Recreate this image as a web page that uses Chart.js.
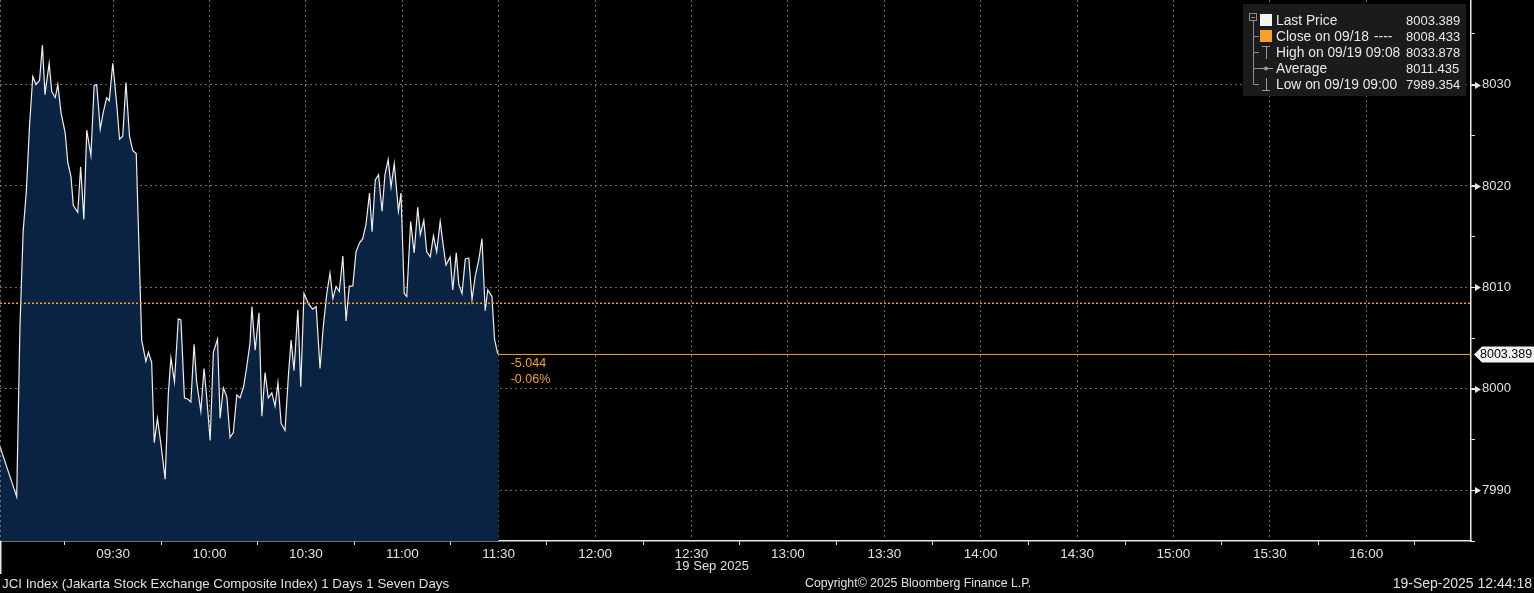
<!DOCTYPE html>
<html>
<head>
<meta charset="utf-8">
<script src="https://cdn.jsdelivr.net/npm/chart.js@4.4.1/dist/chart.umd.min.js"></script>
<style>
  html, body { margin: 0; padding: 0; background: #000; }
  #wrap { width: 1534px; height: 593px; }
</style>
</head>
<body>
<div id="wrap"><canvas id="jciChart"></canvas></div>
<script>
// minutes after 09:00 (19 Sep 2025) and JCI index level
const times = [
  -5.2, 0, 1, 2, 3, 4, 5, 6, 7.1, 8, 8.8, 10.1, 10.9, 12.0, 12.8, 13.8, 15.1, 15.9, 16.9, 17.6,
  19.0, 19.9, 20.9, 21.8, 23.1, 24.1, 24.9, 26.0, 26.9, 28.0, 28.8, 29.9, 31.2, 32.0, 33.0, 34.0,
  35.1, 36.1, 37.2, 38.9, 40.2, 41.0, 42.0, 42.8, 43.8, 44.9, 46.2, 47.2, 48.0, 49.1, 50.3, 51.1,
  52.2, 53.2, 54.2, 55.2, 56.0, 57.3, 58.3, 59.2, 60.2, 61.2, 62.5, 63.3, 64.3, 65.4, 66.4, 67.4,
  68.5, 69.5, 70.6, 71.6, 72.6, 73.2, 74.2, 75.4, 76.3, 77.3, 78.3, 79.4, 80.4, 81.3, 82.3, 83.5,
  84.6, 85.4, 86.3, 87.5, 88.4, 89.4, 90.8, 92.1, 93.2, 94.4, 95.4, 96.5, 97.5, 98.4, 99.4, 100.4,
  101.5, 102.5, 103.5, 104.6, 105.6, 106.7, 107.7, 108.7, 109.8, 110.6, 111.6, 112.6, 113.7, 114.6,
  115.6, 116.5, 117.5, 118.8, 119.6, 120.6, 121.4, 122.6, 123.7, 124.8, 125.6, 126.7, 127.6, 128.7,
  129.7, 130.7, 131.8, 132.8, 133.6, 134.9, 135.7, 136.8, 137.6, 138.6, 139.6, 140.7, 141.7, 142.7,
  143.8, 144.8, 145.8, 146.6, 147.9, 148.7, 149.6, 150
];
const prices = [
  7994.3, 7989.354, 8006.0, 8015.5, 8019.5, 8026.0, 8030.8, 8030.0, 8030.4, 8033.878, 8029.0, 8032.1, 8029.3, 8028.7, 8030.0, 8027.2, 8025.2, 8022.3, 8020.9, 8018.1,
  8017.4, 8021.9, 8016.7, 8025.5, 8023.0, 8029.9, 8030.0, 8025.6, 8027.2, 8028.7, 8028.4, 8032.1, 8027.8, 8024.6, 8024.9, 8030.2,
  8024.9, 8023.5, 8023.2, 8004.8, 8002.7, 8003.6, 8002.6, 7994.7, 7997.1, 7994.5, 7991.1, 7999.6, 8003.05, 8000.7, 8006.9, 8006.8,
  7999.1, 7999.0, 7998.7, 8004.4, 8000.7, 7997.8, 8002.0, 7998.9, 7994.9, 8003.6, 8004.9, 7997.1, 8000.1, 7999.2, 7995.2, 7995.7,
  7999.4, 7999.1, 8000.2, 8002.2, 8004.5, 8008.1, 8003.8, 8007.5, 7997.3, 8001.6, 7999.1, 7999.6, 7998.3, 8000.6, 7996.6, 7995.9,
  8001.5, 8004.8, 8001.8, 8007.8, 8000.2, 8009.4, 8008.4, 8007.85, 8008.1, 8002.0, 8006.1, 8009.4, 8011.4, 8008.9, 8010.1, 8009.6,
  8013.1, 8006.7, 8010.1, 8010.15, 8013.5, 8014.4, 8014.8, 8016.2, 8019.3, 8015.5, 8020.6, 8021.1, 8017.5, 8021.1,
  8022.6, 8019.9, 8022.2, 8017.5, 8019.3, 8009.4, 8009.1, 8016.5, 8013.4, 8017.9, 8015.2, 8016.6, 8013.5, 8013.0,
  8015.1, 8013.5, 8016.5, 8014.0, 8012.2, 8013.0, 8009.75, 8013.4, 8010.3, 8009.4, 8012.8, 8012.9, 8008.8, 8011.1,
  8012.7, 8014.8, 8007.7, 8009.75, 8009.1, 8004.9, 8003.6, 8003.389
];

const lastPrice = 8003.389;
const prevClose = 8008.433;
const netChange = '-5.044';
const pctChange = '-0.06%';

const legendLabels = ['Last Price', 'Close on 09/18', 'High on 09/19 09:08', 'Average', 'Low on 09/19 09:00'];
const legendValues = ['8003.389', '8008.433', '8033.878', '8011.435', '7989.354'];

const xMin = -5.2, xMax = 452.6;
const yMin = 7985, yMax = 8038.33;

const ORANGE = '#f5a02a';
const GRID = 'rgba(140,140,140,0.75)';
const FONT = '"Liberation Sans", Arial, sans-serif';

function hhmm(v) {
  const h = 9 + Math.floor(v / 60);
  const m = v % 60;
  return String(h).padStart(2, '0') + ':' + String(m).padStart(2, '0');
}
const isLabelled = v => Number.isInteger(v) && v % 30 === 0 && v >= 30 && v <= 420;
const isGridX = v => Number.isInteger(v) && v % 30 === 0 && v >= 0 && v <= 420;
const isMinorX = v => Number.isInteger(v) && (v === 0 || v % 30 === 15) && v <= 435;

const pricePts = times.map((t, i) => ({ x: t, y: prices[i] }));

// no extra padding round the plot: it fills the canvas up to the axes
function fitAxis(size, key) {
  return s => {
    s[key] = size;
    s.paddingTop = 0; s.paddingBottom = 0; s.paddingLeft = 0; s.paddingRight = 0;
  };
}

const bbgPlugin = {
  id: 'bbg',
  beforeDraw(chart) {
    const c = chart.ctx;
    c.save();
    c.fillStyle = '#000';
    c.fillRect(0, 0, chart.width, chart.height);
    c.restore();
  },
  afterDraw(chart) {
    const c = chart.ctx;
    const area = chart.chartArea;
    const ys = chart.scales.y;
    const xs = chart.scales.x;
    c.save();

    // left dashed edge + white stub under axis
    c.strokeStyle = GRID;
    c.lineWidth = 1;
    c.setLineDash([2, 3]);
    c.beginPath(); c.moveTo(0.5, 0); c.lineTo(0.5, area.bottom); c.stroke();
    c.setLineDash([]);
    c.strokeStyle = '#e8e8e8';
    c.lineWidth = 1.5;
    c.beginPath(); c.moveTo(0.75, area.bottom); c.lineTo(0.75, 574); c.stroke();

    // arrow markers on right axis
    c.fillStyle = '#e8e8e8';
    c.strokeStyle = '#e8e8e8';
    c.lineWidth = 1;
    ys.ticks.forEach(t => {
      if (Number.isInteger(t.value) && t.value % 10 === 0) {
        const y = Math.round(ys.getPixelForValue(t.value)) + 0.5;
        c.beginPath(); c.moveTo(area.right, y); c.lineTo(area.right + 6, y); c.stroke();
        c.beginPath();
        c.moveTo(area.right + 4, y - 3.5);
        c.lineTo(area.right + 10, y);
        c.lineTo(area.right + 4, y + 3.5);
        c.closePath(); c.fill();
      }
    });

    // last price callout
    const ly = ys.getPixelForValue(lastPrice);
    c.fillStyle = '#f2f2f2';
    c.beginPath();
    c.moveTo(area.right + 3, ly);
    c.lineTo(area.right + 11, ly - 8);
    c.lineTo(chart.width, ly - 8);
    c.lineTo(chart.width, ly + 8);
    c.lineTo(area.right + 11, ly + 8);
    c.closePath(); c.fill();
    c.fillStyle = '#000';
    c.font = '12.5px ' + FONT;
    c.textBaseline = 'middle';
    c.textAlign = 'left';
    c.fillText(lastPrice.toFixed(3), area.right + 9, ly + 0.5);

    // change labels
    const lx = xs.getPixelForValue(times[times.length - 1]);
    c.fillStyle = ORANGE;
    c.font = '12.5px ' + FONT;
    c.fillText(netChange, lx + 12, ly + 9);
    c.fillText(pctChange, lx + 12, ly + 25);

    // date under axis
    c.fillStyle = '#e0e0e0';
    c.font = '13px ' + FONT;
    c.textAlign = 'center';
    c.fillText('19 Sep 2025', 712, 566);

    // footer
    c.font = '13.3px ' + FONT;
    c.textAlign = 'left';
    c.fillText('JCI Index (Jakarta Stock Exchange Composite Index) 1 Days 1 Seven Days', 2, 584);
    c.font = '12.3px ' + FONT;
    c.fillText('Copyright\u00a9 2025 Bloomberg Finance L.P.', 805, 584);
    c.textAlign = 'right';
    c.font = '14px ' + FONT;
    c.fillText('19-Sep-2025 12:44:18', 1532, 584);

    // legend box
    c.fillStyle = '#1b1b1b';
    c.fillRect(1243, 4, 223, 92);
    const rows = [20.5, 36.5, 52.5, 68.5, 84.5];
    c.strokeStyle = '#8a8a8a';
    c.lineWidth = 1;
    c.strokeRect(1249.5, 13.5, 7, 7);
    c.beginPath(); c.moveTo(1251, 17.5); c.lineTo(1255, 17.5); c.stroke();
    c.beginPath(); c.moveTo(1253.5, 21); c.lineTo(1253.5, 84.5); c.stroke();
    rows.slice(1).forEach(r => {
      c.beginPath(); c.moveTo(1253.5, r); c.lineTo(1259, r); c.stroke();
    });
    c.fillStyle = '#f4f4f4';
    c.fillRect(1260, 14, 12, 12);
    c.fillStyle = ORANGE;
    c.fillRect(1260, 30, 12, 12);
    c.strokeStyle = '#9a9a9a';
    c.beginPath(); c.moveTo(1262, 46.5); c.lineTo(1270, 46.5); c.moveTo(1266.5, 46.5); c.lineTo(1266.5, 59); c.stroke();
    c.beginPath(); c.moveTo(1259, 68.5); c.lineTo(1273, 68.5); c.stroke();
    c.fillStyle = '#9a9a9a';
    c.beginPath(); c.arc(1266, 68.5, 2, 0, Math.PI * 2); c.fill();
    c.beginPath(); c.moveTo(1266.5, 78); c.lineTo(1266.5, 90.5); c.moveTo(1262, 90.5); c.lineTo(1270, 90.5); c.stroke();

    c.fillStyle = '#e8e8e8';
    c.textAlign = 'left';
    c.textBaseline = 'middle';
    c.font = '13.8px ' + FONT;
    legendLabels.forEach((l, i) => c.fillText(l, 1276, rows[i] + 0.5));
    c.fillText('----', 1374, rows[1] + 0.5);
    c.font = '13px ' + FONT;
    legendValues.forEach((v, i) => c.fillText(v, 1406, rows[i] + 0.5));

    c.restore();
  }
};

new Chart(document.getElementById('jciChart'), {
  type: 'line',
  data: {
    datasets: [
      {
        label: 'Last',
        data: [{ x: times[times.length - 1], y: lastPrice }, { x: xMax, y: lastPrice }],
        borderColor: ORANGE,
        borderWidth: 1,
        pointRadius: 0,
        fill: false
      },
      {
        label: 'Close',
        data: [{ x: xMin, y: prevClose }, { x: xMax, y: prevClose }],
        borderColor: ORANGE,
        borderWidth: 1.5,
        borderDash: [2, 2],
        pointRadius: 0,
        fill: false
      },
      {
        label: 'JCI',
        data: pricePts,
        borderColor: '#eeeeee',
        borderWidth: 1.2,
        backgroundColor: '#0b2342',
        fill: 'start',
        pointRadius: 0,
        tension: 0
      }
    ]
  },
  options: {
    responsive: true,
    maintainAspectRatio: false,
    animation: false,
    devicePixelRatio: 1,
    layout: { padding: 0 },
    plugins: {
      legend: { display: false },
      tooltip: { enabled: false }
    },
    scales: {
      x: {
        type: 'linear',
        min: xMin,
        max: xMax,
        afterFit: fitAxis(52, 'height'),
        grid: {
          color: ctx => isGridX(ctx.tick.value) ? GRID : 'transparent',
          tickColor: ctx => isMinorX(ctx.tick.value) ? '#e0e0e0' : 'transparent',
          tickLength: 4,
          lineWidth: 1
        },
        border: { color: '#e8e8e8', width: 1.5, dash: [2, 3] },
        ticks: {
          stepSize: 15,
          autoSkip: false,
          maxRotation: 0,
          padding: 1,
          color: '#e0e0e0',
          font: { family: FONT, size: 13.5 },
          callback: v => isLabelled(v) ? hhmm(v) : ''
        }
      },
      y: {
        position: 'right',
        min: yMin,
        max: yMax,
        afterFit: fitAxis(63, 'width'),
        grid: {
          color: ctx => (Number.isInteger(ctx.tick.value) && ctx.tick.value % 10 === 0) ? GRID : 'transparent',
          tickColor: ctx => (Number.isInteger(ctx.tick.value) && ctx.tick.value % 5 === 0) ? '#e0e0e0' : 'transparent',
          tickLength: 4,
          lineWidth: 1
        },
        border: { color: '#e8e8e8', width: 1.5, dash: [2, 3] },
        ticks: {
          stepSize: 5,
          padding: 7,
          color: '#e0e0e0',
          font: { family: FONT, size: 13 },
          callback: v => (Number.isInteger(v) && v % 10 === 0) ? String(v) : ''
        }
      }
    }
  },
  plugins: [bbgPlugin]
});
</script>
</body>
</html>
